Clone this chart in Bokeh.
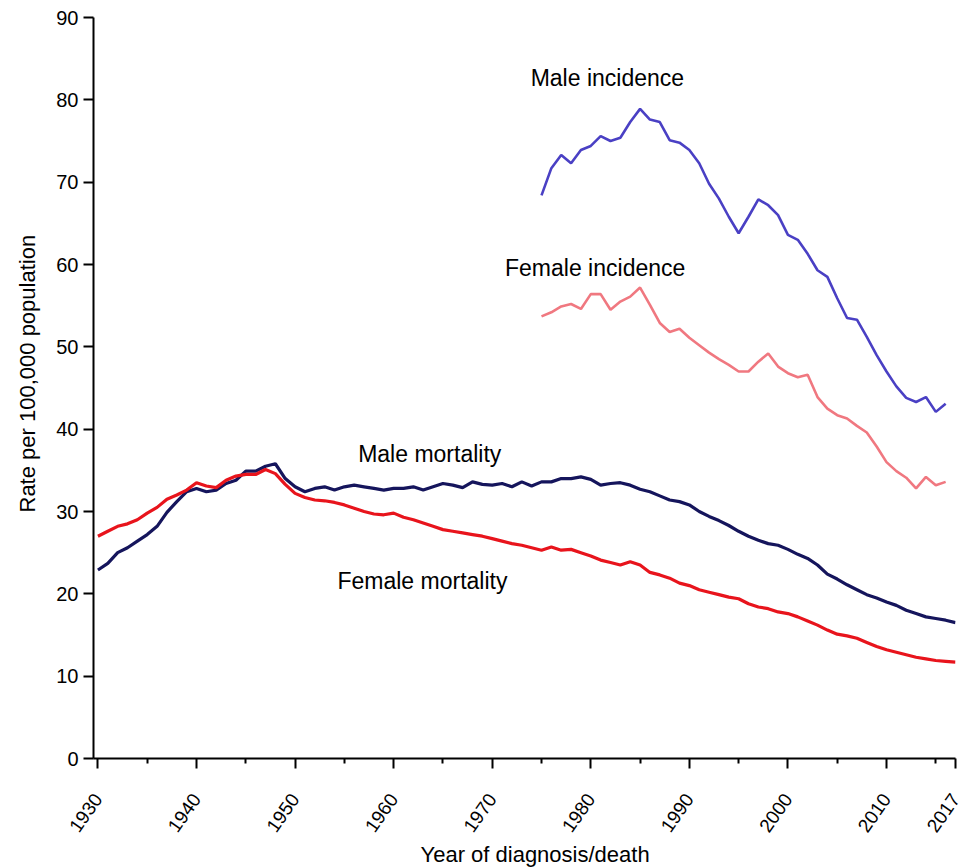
import math
from bokeh.plotting import figure
from bokeh.models import FixedTicker, Range1d, ColumnDataSource, Title
from bokeh.embed import file_html
from bokeh.resources import INLINE
from bokeh.core.properties import value

# ---------------- data ----------------
mort_years = list(range(1930, 2018))
male_mortality = [
    22.9, 23.7, 25.0, 25.6, 26.4, 27.2, 28.2, 29.9, 31.2, 32.4,
    32.8, 32.4, 32.6, 33.4, 33.8, 34.9, 34.9, 35.5, 35.8, 34.0,
    33.0, 32.4, 32.8, 33.0, 32.6, 33.0, 33.2, 33.0, 32.8, 32.6,
    32.8, 32.8, 33.0, 32.6, 33.0, 33.4, 33.2, 32.9, 33.6, 33.3,
    33.2, 33.4, 33.0, 33.6, 33.1, 33.6, 33.6, 34.0, 34.0, 34.2,
    33.9, 33.2, 33.4, 33.5, 33.2, 32.7, 32.4, 31.9, 31.4, 31.2,
    30.8, 30.0, 29.4, 28.9, 28.3, 27.6, 27.0, 26.5, 26.1, 25.9,
    25.4, 24.8, 24.3, 23.5, 22.4, 21.8, 21.1, 20.5, 19.9, 19.5,
    19.0, 18.6, 18.0, 17.6, 17.2, 17.0, 16.8, 16.5,
]
female_mortality = [
    27.0, 27.6, 28.2, 28.5, 29.0, 29.8, 30.5, 31.5, 32.0, 32.6,
    33.5, 33.1, 32.9, 33.8, 34.3, 34.5, 34.5, 35.1, 34.6, 33.3,
    32.2, 31.7, 31.4, 31.3, 31.1, 30.8, 30.4, 30.0, 29.7, 29.6,
    29.8, 29.3, 29.0, 28.6, 28.2, 27.8, 27.6, 27.4, 27.2, 27.0,
    26.7, 26.4, 26.1, 25.9, 25.6, 25.3, 25.7, 25.3, 25.4, 25.0,
    24.6, 24.1, 23.8, 23.5, 23.9, 23.5, 22.6, 22.3, 21.9, 21.3,
    21.0, 20.5, 20.2, 19.9, 19.6, 19.4, 18.8, 18.4, 18.2, 17.8,
    17.6, 17.2, 16.7, 16.2, 15.6, 15.1, 14.9, 14.6, 14.1, 13.6,
    13.2, 12.9, 12.6, 12.3, 12.1, 11.9, 11.8, 11.7,
]
inc_years = list(range(1975, 2017))
male_incidence = [
    68.4, 71.7, 73.3, 72.3, 73.9, 74.4, 75.6, 75.0, 75.4, 77.3,
    78.9, 77.6, 77.3, 75.1, 74.8, 73.9, 72.3, 69.8, 68.0, 65.8,
    63.8, 65.8, 67.9, 67.2, 66.0, 63.6, 63.0, 61.3, 59.3, 58.5,
    55.9, 53.5, 53.3, 51.2, 49.0, 47.0, 45.2, 43.8, 43.3, 43.9,
    42.1, 43.1,
]
female_incidence = [
    53.7, 54.2, 54.9, 55.2, 54.6, 56.4, 56.4, 54.5, 55.5, 56.1,
    57.2, 55.1, 52.9, 51.8, 52.2, 51.1, 50.2, 49.3, 48.5, 47.8,
    47.0, 47.0, 48.2, 49.2, 47.6, 46.8, 46.3, 46.6, 43.9, 42.5,
    41.7, 41.3, 40.4, 39.6, 37.9, 36.0, 34.9, 34.1, 32.8, 34.2,
    33.2, 33.6,
]
x_major_ticks = [1930, 1940, 1950, 1960, 1970, 1980, 1990, 2000, 2010, 2017]
x_minor_ticks = [1935, 1945, 1955, 1965, 1975, 1985, 1995, 2005, 2015]
y_ticks = [0, 10, 20, 30, 40, 50, 60, 70, 80, 90]

label_texts = ["Male incidence", "Female incidence", "Male mortality", "Female mortality"]
label_x = [1973.9, 1971.3, 1956.4, 1954.3]
label_y = [82.6, 59.6, 37.0, 21.6]

x_title = "Year of diagnosis/death"
y_title = "Rate per 100,000 population"

FONT = "Liberation Sans"

p = figure(width=961, height=867, output_backend="svg", toolbar_location=None,
           x_range=Range1d(1929.55, 2017), y_range=Range1d(0, 90),
           min_border_left=93, min_border_right=6, min_border_top=17,
           min_border_bottom=108)
p.outline_line_color = None
p.grid.visible = False
p.background_fill_color = "white"

p.line(mort_years, male_mortality, line_color="#15155c", line_width=3.2)
p.line(mort_years, female_mortality, line_color="#e8141c", line_width=3.2)
p.line(inc_years, male_incidence, line_color="#4a40c4", line_width=2.6)
p.line(inc_years, female_incidence, line_color="#f07880", line_width=2.6)

src = ColumnDataSource(dict(x=label_x, y=label_y, t=label_texts))
p.text(x="x", y="y", text="t", source=src, text_font=value(FONT),
       text_font_size="23px", text_color="black", text_align="left",
       text_baseline="middle")

xa = p.xaxis[0]
xa.ticker = FixedTicker(ticks=x_major_ticks, minor_ticks=x_minor_ticks)
xa.major_label_orientation = 0.96
ya = p.yaxis[0]
ya.ticker = FixedTicker(ticks=y_ticks)

for ax in (xa, ya):
    ax.axis_line_color = "black"
    ax.axis_line_width = 2
    ax.major_tick_line_color = "black"
    ax.major_tick_line_width = 2
    ax.minor_tick_line_color = "black"
    ax.minor_tick_line_width = 2
    ax.major_tick_in = 0
    ax.major_tick_out = 10
    ax.minor_tick_in = 0
    ax.major_label_text_font = FONT
    ax.major_label_text_color = "black"

xa.major_label_text_font_size = "19px"
ya.major_label_text_font_size = "20px"
xa.minor_tick_out = 5
ya.minor_tick_out = 0
ya.minor_tick_line_color = None
ya.major_label_standoff = 5
xa.major_label_standoff = 27

# axis titles as side titles (allow the original's off-centre placement)
p.add_layout(Title(text=x_title, text_font=FONT, text_font_size="22px",
                   text_font_style="normal", text_color="black",
                   align="left", vertical_align="middle",
                   offset=327, standoff=0), "below")
p.add_layout(Title(text=y_title, text_font=FONT, text_font_size="22px",
                   text_font_style="normal", text_color="black",
                   align="left", vertical_align="middle",
                   offset=246, standoff=25), "left")

open("out.html", "w").write(file_html(p, INLINE))
